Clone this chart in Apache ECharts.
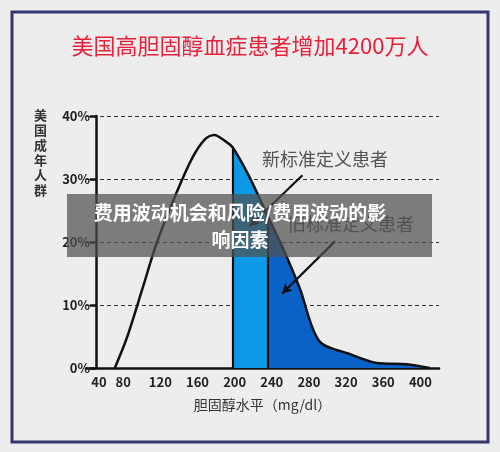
<!DOCTYPE html>
<html><head><meta charset="utf-8">
<script src="https://cdn.jsdelivr.net/npm/echarts@6/dist/echarts.min.js"></script>
<style>html,body{margin:0;padding:0;background:#ededed}#c{width:500px;height:452px}</style>
</head><body><div id="c"></div>
<script>
const curveX = [71,84,101,116,138,155,168,178,190,198,216,236,252,270,291,324,353,385,410];
const curveY = [0,4.8,12.7,19.8,28,33.5,36.3,37,36,35,30.3,24,19,12.7,4.3,2.2,0.8,0.6,0];
const yTicks = ['0%','10%','20%','30%','40%'];
const newStart = 198, oldStart = 236;
const title = '美国高胆固醇血症患者增加4200万人';
const overlay = ['费用波动机会和风险/费用波动的影','响因素'];

const pts = curveX.map((x,i)=>[x,curveY[i]]);
const seg = (a,b)=>pts.filter(p=>p[0]>=a && p[0]<=b);
const yAt = x => pts.find(p=>p[0]===x)[1];
const font = '"Noto Sans CJK SC","Noto Sans",sans-serif';

const chart = echarts.init(document.getElementById('c'));
chart.setOption({
  backgroundColor:'#ededed',
  animation:false,
  title:{text:title,left:'center',top:30,textStyle:{color:'#e8203a',fontSize:22,fontWeight:'normal',fontFamily:font}},
  grid:{left:86,right:61,top:116,bottom:84},
  xAxis:{type:'value',min:40,max:420,interval:40,
    axisLine:{lineStyle:{color:'#111',width:2.5}},axisTick:{show:false},splitLine:{show:false},
    axisLabel:{color:'#222',fontSize:13,fontWeight:'bold',fontFamily:font,margin:8,
      formatter:v=>v>400?'':(v===40?'{a|40}':String(v)),
      rich:{a:{fontSize:13,fontWeight:'bold',color:'#222',fontFamily:font,padding:[0,0,0,26]}}},
    name:'胆固醇水平（mg/dl）',nameLocation:'middle',nameGap:30,
    nameTextStyle:{color:'#333',fontSize:14,fontFamily:font}},
  yAxis:{type:'value',min:0,max:40,interval:10,offset:-10,
    axisLine:{show:true,lineStyle:{color:'#111',width:2.5}},
    axisTick:{show:true,length:6,lineStyle:{color:'#111',width:2.5}},
    splitLine:{show:true,lineStyle:{color:'#333',type:[4,3],width:1.2}},
    axisLabel:{color:'#222',fontSize:13,fontWeight:'bold',fontFamily:font,margin:6,formatter:v=>yTicks[v/10]}},
  series:[
    {type:'line',data:seg(newStart,oldStart),smooth:0.3,symbol:'none',lineStyle:{width:0},
     areaStyle:{color:'#0c9ae6',opacity:1},z:1},
    {type:'line',data:seg(oldStart,420),smooth:0.3,symbol:'none',lineStyle:{width:0},
     areaStyle:{color:'#0a62c6',opacity:1},z:1},
    {type:'line',data:pts,smooth:0.3,symbol:'none',lineStyle:{color:'#111',width:2.5},z:3,
     markLine:{silent:true,symbol:'none',label:{show:false},lineStyle:{color:'#111',width:2.2,type:'solid'},
       data:[[{coord:[newStart,0]},{coord:[newStart,yAt(newStart)]}],
             [{coord:[oldStart,0]},{coord:[oldStart,yAt(oldStart)]}],
             [{coord:[273,30.6],symbol:'none'},{coord:[216,22.5],symbol:'arrow',symbolSize:[8,10]}],
             [{coord:[308,20.1],symbol:'none'},{coord:[251,11.8],symbol:'arrow',symbolSize:[8,10]}]]}}
  ],
  graphic:[
    {type:'rect',shape:{x:12,y:12,width:476,height:430},style:{fill:'none',stroke:'#363670',lineWidth:3},z:0},
    {type:'text',left:34,top:108,style:{text:'美\n国\n成\n年\n人\n群',font:'bold 13px '+font,lineHeight:15,fill:'#333'}},
    {type:'text',left:262,top:150,style:{text:'新标准定义患者',font:'18px '+font,fill:'#555'}},
    {type:'text',left:288,top:215,style:{text:'旧标准定义患者',font:'18px '+font,fill:'#555'},z:5},
    {type:'rect',shape:{x:67,y:194,width:365,height:63},style:{fill:'rgba(80,80,80,0.72)'},z:10},
    {type:'text',x:240,y:199,z:11,style:{text:overlay.join('\n'),font:'bold 19px '+font,fill:'#fff',align:'center',verticalAlign:'top',lineHeight:27}}
  ]
});
</script></body></html>
